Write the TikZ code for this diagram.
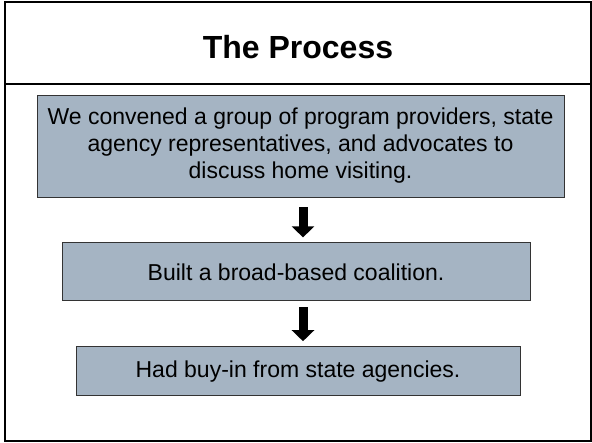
\documentclass[tikz,border=0pt]{standalone}
\usepackage{fontspec}
\setmainfont{Liberation Sans}
\usetikzlibrary{arrows.meta,positioning}
\definecolor{stepfill}{HTML}{A5B4C3}
\tikzset{stepbox/.style={
    % The shape:
    rectangle,
    % The border:
    draw=black!80,
    line width=0.8pt,
    % The filling:
    fill=stepfill,
    % Font
    font=\fontsize{23}{27}\selectfont,
    align=center,
    inner sep=0pt
    },
    titletext/.style={
    font=\fontsize{32}{36}\selectfont\bfseries
    },
    flowarrow/.style={
    line width=9pt,
    -{Triangle[width=22pt,length=11pt]}
    },
}

\begin{document}
\begin{tikzpicture}[x=1pt,y=-1pt, node distance = 45pt and 0pt]
    \useasboundingbox (0,0) rectangle (592,443);
    \draw[line width=1.6pt] (5,2) rectangle (591,441);
    \draw[line width=1.6pt] (5,84) -- (591,84);
    \node (title) [titletext] at (298,47.5) {The Process};

    \node (convene) [stepbox,minimum width=527pt,minimum height=102pt] at (300.5,146)
      {We convened a group of program providers, state\\agency representatives, and advocates to\\discuss home visiting.};
    \node (coalition) [stepbox,minimum width=468pt,minimum height=58pt,below=of convene,xshift=-4.5pt]
      {Built a broad-based coalition.};
    \node (buyin) [stepbox,minimum width=444pt,minimum height=49pt,below=of coalition,xshift=2pt]
      {Had buy-in from state agencies.};

    \draw[flowarrow,shorten <=10pt,shorten >=5pt] ([xshift=2.5pt]convene.south) -- ([xshift=2.5pt]convene.south |- coalition.north);
    \draw[flowarrow,shorten <=6pt,shorten >=5pt] ([xshift=7pt]coalition.south) -- ([xshift=7pt]coalition.south |- buyin.north);
\end{tikzpicture}
\end{document}
